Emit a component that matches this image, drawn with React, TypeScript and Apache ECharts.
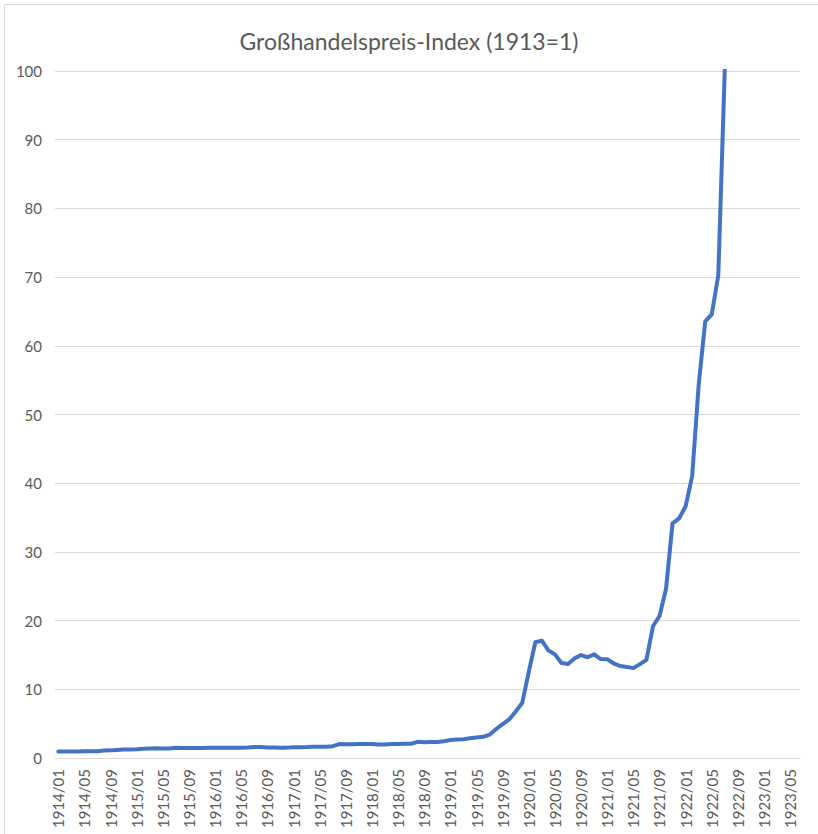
import React, { useEffect, useRef } from "react";
import * as echarts from "echarts";

const years = [1914, 1915, 1916, 1917, 1918, 1919, 1920, 1921, 1922, 1923];
const months = ["01", "02", "03", "04", "05", "06", "07", "08", "09", "10", "11", "12"];
const lastMonthIndex1923 = 6; // categories run up to 1923/06

const v1914 = [0.96, 0.96, 0.96, 0.95, 0.97, 0.99, 0.99, 1.09, 1.11, 1.18, 1.23, 1.25];
const v1915 = [1.26, 1.33, 1.39, 1.42, 1.39, 1.39, 1.5, 1.46, 1.45, 1.47, 1.47, 1.48];
const v1916 = [1.5, 1.51, 1.48, 1.49, 1.51, 1.52, 1.61, 1.59, 1.54, 1.53, 1.51, 1.51];
const v1917 = [1.56, 1.58, 1.59, 1.63, 1.63, 1.65, 1.72, 2.03, 1.99, 2.01, 2.03, 2.03];
const v1918 = [2.04, 1.98, 1.98, 2.04, 2.03, 2.09, 2.08, 2.35, 2.3, 2.34, 2.34, 2.45];
const v1919 = [2.62, 2.7, 2.74, 2.86, 2.97, 3.08, 3.39, 4.22, 4.93, 5.62, 6.78, 8.03];
const v1920 = [12.56, 16.85, 17.09, 15.67, 15.08, 13.82, 13.67, 14.5, 14.98, 14.66, 15.09, 14.4];
const v1921 = [14.39, 13.76, 13.38, 13.26, 13.08, 13.66, 14.28, 19.17, 20.67, 24.6, 34.16, 34.87];
const v1922 = [36.65, 41.03, 54.33, 63.55, 64.58, 70.3, 100.59, 192, 287, 566, 1154, 1475];
const v1923 = [2785, 5585, 4888, 5212, 8170, 19385];

const yTicks = { min: 0, max: 100, interval: 10 };

const categories: string[] = [];
years.forEach((y) => {
  const n = y === 1923 ? lastMonthIndex1923 : 12;
  for (let i = 0; i < n; i++) categories.push(`${y}/${months[i]}`);
});
const values = [...v1914, ...v1915, ...v1916, ...v1917, ...v1918, ...v1919, ...v1920, ...v1921, ...v1922, ...v1923];

const FONT = "Lato, 'Open Sans', sans-serif";
const TEXT = "#595959";
const GRID = "#d9d9d9";

export default function App() {
  const ref = useRef<HTMLDivElement>(null);
  useEffect(() => {
    if (!ref.current) return;
    const chart = echarts.init(ref.current, undefined, { renderer: "svg" });
    chart.setOption({
      animation: false,
      backgroundColor: "#ffffff",
      textStyle: { fontFamily: FONT },
      title: {
        text: "Großhandelspreis-Index (1913=1)",
        left: "center",
        top: 24,
        textStyle: { fontFamily: FONT, fontSize: 23, fontWeight: "normal", color: TEXT },
      },
      graphic: [
        {
          type: "rect",
          shape: { x: 4.5, y: 4.5, width: 830, height: 840 },
          style: { fill: "none", stroke: GRID, lineWidth: 1 },
          silent: true,
        },
      ],
      grid: { left: 55, right: 18, top: 71, bottom: 76, containLabel: false },
      xAxis: {
        type: "category",
        data: categories,
        boundaryGap: true,
        axisLine: { show: true, lineStyle: { color: GRID, width: 1 } },
        axisTick: { show: false },
        axisLabel: {
          interval: 3,
          rotate: 90,
          margin: 11,
          color: TEXT,
          fontSize: 15,
          fontFamily: FONT,
        },
        splitLine: { show: false },
      },
      yAxis: {
        type: "value",
        min: yTicks.min,
        max: yTicks.max,
        interval: yTicks.interval,
        axisLine: { show: false },
        axisTick: { show: false },
        axisLabel: { color: TEXT, fontSize: 15, fontFamily: FONT, margin: 13 },
        splitLine: { show: true, lineStyle: { color: GRID, width: 1 } },
      },
      series: [
        {
          type: "line",
          data: values,
          showSymbol: false,
          smooth: false,
          clip: true,
          lineStyle: { color: "#4472C4", width: 4, cap: "round", join: "round" },
          itemStyle: { color: "#4472C4" },
        },
      ],
    });
    return () => chart.dispose();
  }, []);
  return (
    <div
      ref={ref}
      style={{ position: "fixed", left: 0, top: 0, width: 818, height: 834, background: "#fff" }}
    />
  );
}
